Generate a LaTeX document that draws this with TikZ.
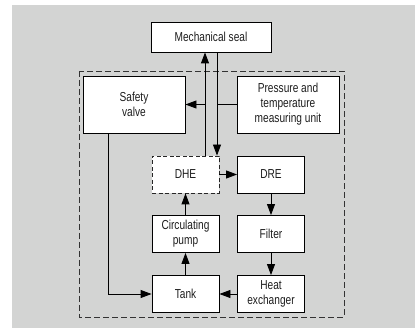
\documentclass[tikz,border=0pt]{standalone}
\usepackage{fontspec}
\setmainfont{Liberation Sans}[FakeStretch=0.78]
\usepackage{xcolor}
\definecolor{bggray}{RGB}{211,212,211}
\definecolor{txtgray}{RGB}{30,30,30}
\usetikzlibrary{arrows.meta,positioning}

\begin{document}
\begin{tikzpicture}[x=1pt, y=-1pt,
        box/.style={rectangle, draw=black, line width=0.9pt, fill=white,
                    minimum width=67pt, minimum height=37pt, align=center,
                    inner sep=1pt, text=txtgray,
                    font=\fontsize{13}{15}\selectfont},
        arr/.style={-{Triangle[length=11pt, width=8pt]}, line width=0.9pt},
        lnk/.style={line width=0.9pt}
      ]
        \useasboundingbox (0,0) rectangle (415,328);
        \fill[bggray] (12,5) rectangle (415,328);

        % dashed outline of the unit
        \draw[dashed, dash pattern=on 6pt off 3pt, line width=0.9pt, black!80]
          (79,71) rectangle (344,317);

        % top boxes
        \node[box, minimum width=120pt, minimum height=30pt] (seal) at (211,37) {Mechanical seal};
        \node[box, minimum width=102pt, minimum height=57pt] (valve) at (134,104.5) {Safety\\valve};
        \node[box, minimum width=102pt, minimum height=57pt] (meas) at (288,104.5) {Pressure and\\temperature\\measuring unit};

        % left column
        \node[box, draw=black!85, dash pattern=on 4pt off 2.5pt] (dhe) at (185.5,174.5) {DHE};
        \node[box] (pump) at (185.5,234) {Circulating\\pump};
        \node[box] (tank) at (185.5,294) {Tank};

        % right column
        \node[box] (dre) at (271,174.5) {DRE};
        \node[box] (filter) at (271,234) {Filter};
        \node[box] (hx) at (271,294) {Heat\\exchanger};

        % line positions
        \coordinate (upx) at (205,0);
        \coordinate (dnx) at (217,0);
        \coordinate (vx) at (108,0);

        % seal loop
        \draw[arr] (dhe.north -| upx) -- (seal.south -| upx);
        \draw[arr] (seal.south -| dnx) -- (dhe.north -| dnx);
        \draw[arr] (valve.east -| upx) -- (valve.east);
        \draw[lnk] (meas.west) -- (meas.west -| dnx);
        \draw[arr] (valve.south -| vx) |- (tank.west);

        % circulation
        \draw[arr] (dhe) -- (dre);
        \draw[arr] (dre) -- (filter);
        \draw[arr] (filter) -- (hx);
        \draw[arr] (hx) -- (tank);
        \draw[arr] (tank) -- (pump);
        \draw[arr] (pump) -- (dhe);
      \end{tikzpicture}
\end{document}
